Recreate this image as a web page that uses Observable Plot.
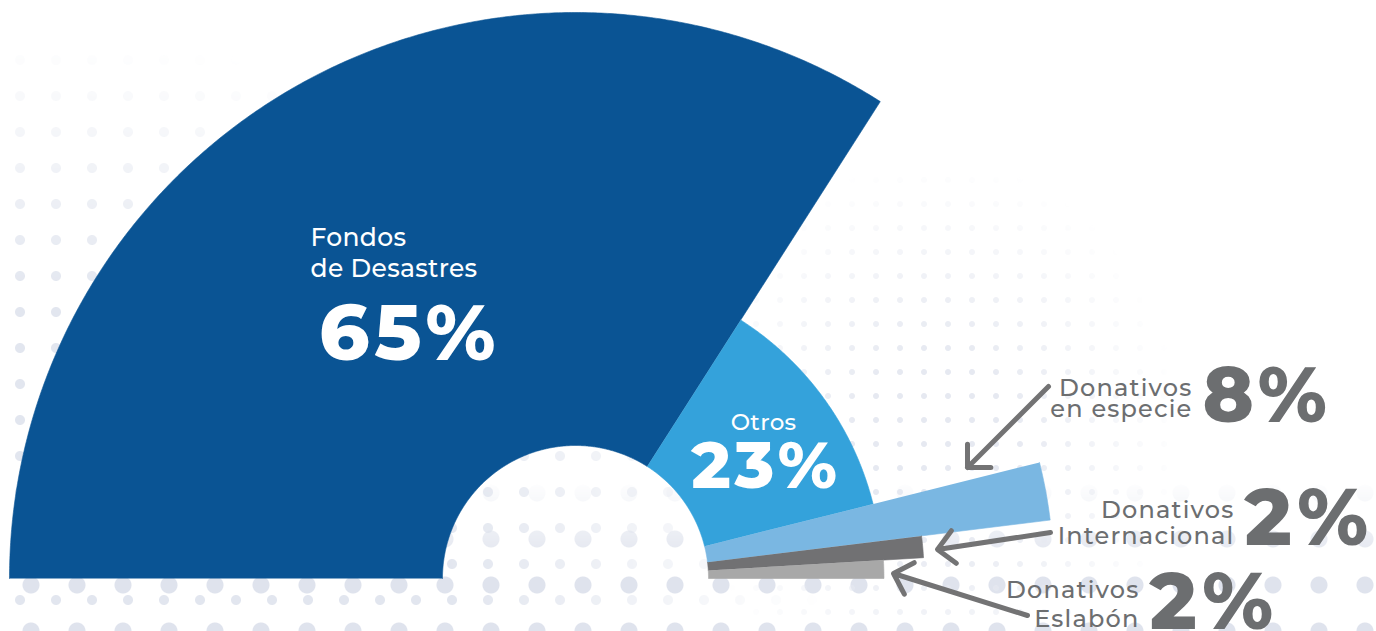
<!DOCTYPE html>
<html>
<head>
<meta charset="utf-8">
<script src="https://cdn.jsdelivr.net/npm/d3@7"></script>
<script src="https://cdn.jsdelivr.net/npm/@observablehq/plot@0.6"></script>
<style>
  html, body { margin: 0; padding: 0; background: #ffffff; }
  #wrap { position: relative; width: 1376px; height: 631px; overflow: hidden; }
  .dots { position: absolute; inset: 0; }
  #dotsBig {
    background-image: radial-gradient(circle, #dfe3ed 0 8px, rgba(255,255,255,0) 9px);
    background-size: 46px 46px;
    background-position: 8px 10px;
    -webkit-mask-image: linear-gradient(to top, #000 0%, #000 10%, transparent 24%);
    mask-image: linear-gradient(to top, #000 0%, #000 10%, transparent 24%);
  }
  #dotsSmall {
    background-image: radial-gradient(circle, #e2e6ef 0 4.5px, rgba(255,255,255,0) 5.5px);
    background-size: 36px 36px;
    background-position: 2px 6px;
    -webkit-mask-image: radial-gradient(ellipse 60% 95% at 0% 100%, #000 55%, transparent 100%);
    mask-image: radial-gradient(ellipse 60% 95% at 0% 100%, #000 55%, transparent 100%);
  }
  #dotsWave {
    background-image: radial-gradient(circle, #e6e9f1 0 2.5px, rgba(255,255,255,0) 3.5px);
    background-size: 24px 24px;
    -webkit-mask-image: radial-gradient(ellipse 18% 45% at 68% 70%, #000 30%, transparent 100%);
    mask-image: radial-gradient(ellipse 18% 45% at 68% 70%, #000 30%, transparent 100%);
  }
  #chart { position: absolute; inset: 0; }
</style>
</head>
<body>
<div id="wrap">
  <div class="dots" id="dotsSmall"></div>
  <div class="dots" id="dotsBig"></div>
  <div class="dots" id="dotsWave"></div>
  <div id="chart"></div>
</div>
<script>
// ---- data ----
const categories = ["Fondos de Desastres", "Otros", "Donativos en especie", "Donativos Internacional", "Donativos Eslabón"];
const values = [65, 23, 8, 2, 2];                 // printed percentages
const arcShare = [68.1, 24.1, 3.9, 2.0, 1.9];      // share of the half circle each slice occupies
const reach = [1, 0.542, 0.845, 0.616, 0.545];     // outer radius of each slice (relative)
const holeRadius = 0.235;
const colors = ["#0a5494", "#34a2db", "#7ab7e2", "#717173", "#a8a8a8"];

// ---- frame ----
const W = 1376, H = 631;
const cxp = 575, cyp = 578, Rp = 566;           // pixel frame of the half donut
const xDomain = [-cxp / Rp, (W - cxp) / Rp];
const yDomain = [(cyp - H) / Rp, cyp / Rp];
const at = (px, py) => ({x: (px - cxp) / Rp, y: (cyp - py) / Rp});

// ---- slice geometry ----
const rad = (d) => d * Math.PI / 180;
let acc = 180;
const slices = categories.map((c, i) => {
  const a0 = acc, a1 = acc - arcShare[i] * 1.8;
  acc = a1;
  return {category: c, value: values[i], a0, a1, r: reach[i]};
});
const pts = [];
for (const s of slices) {
  const n = Math.max(8, Math.ceil((s.a0 - s.a1) * 3));
  for (let k = 0; k <= n; k++) {
    const t = rad(s.a0 + (s.a1 - s.a0) * k / n);
    pts.push({category: s.category, x: s.r * Math.cos(t), y: s.r * Math.sin(t)});
  }
  for (let k = n; k >= 0; k--) {
    const t = rad(s.a0 + (s.a1 - s.a0) * k / n);
    pts.push({category: s.category, x: holeRadius * Math.cos(t), y: holeRadius * Math.sin(t)});
  }
}
const mid = (s) => {
  const t = rad((s.a0 + s.a1) / 2), rr = (holeRadius + s.r) / 2;
  return {x: rr * Math.cos(t), y: rr * Math.sin(t)};
};

const font = "Montserrat, Inter, 'Open Sans', sans-serif";
const grey = "#6c6e70";

// inner labels
const fondos = slices[0], otros = slices[1];
const fA = mid(fondos), oA = mid(otros);

// outer labels for the three small slices
const outer = [
  {s: slices[2], name: at(1192, 416), lh: 21, pct: at(1202, 421), pctSize: 77, tail: at(1048, 386), tip: at(967, 467)},
  {s: slices[3], name: at(1234, 543), lh: 26, pct: at(1244, 544), pctSize: 79, tail: at(1050, 532), tip: at(937, 549)},
  {s: slices[4], name: at(1139, 626), lh: 29, pct: at(1149, 628), pctSize: 79, tail: at(1027, 615), tip: at(893, 573)}
];
const splitName = (c) => { const i = c.indexOf(" "); return c.slice(0, i) + "\n" + c.slice(i + 1); };

const marks = [
  Plot.line(pts, {x: "x", y: "y", z: "category", fill: "category", stroke: "category", strokeWidth: 0.6, curve: "linear"}),
  // Fondos
  Plot.text([fA], {x: "x", y: "y", text: () => splitName(fondos.category), textAnchor: "start", lineAnchor: "bottom", dx: -97, dy: 5, fontSize: 25, lineHeight: 31 / 25, fill: "white", fontWeight: 500, fontFamily: font}),
  Plot.text([fA], {x: "x", y: "y", text: () => fondos.value + "%", textAnchor: "middle", lineAnchor: "bottom", dx: 2, dy: 88, fontSize: 78, fill: "white", fontWeight: 800, fontFamily: font}),
  // Otros
  Plot.text([oA], {x: "x", y: "y", text: () => otros.category, textAnchor: "middle", lineAnchor: "bottom", dx: 9.5, dy: -20.5, fontSize: 23, fill: "white", fontWeight: 500, fontFamily: font}),
  Plot.text([oA], {x: "x", y: "y", text: () => otros.value + "%", textAnchor: "middle", lineAnchor: "bottom", dx: 12, dy: 37.5, fontSize: 66, fill: "white", fontWeight: 800, fontFamily: font}),
  // arrows
  Plot.arrow(outer, {x1: (d) => d.tail.x, y1: (d) => d.tail.y, x2: (d) => d.tip.x, y2: (d) => d.tip.y, stroke: "#737374", strokeWidth: 5, headAngle: 90, headLength: 7})
];
for (const o of outer) {
  marks.push(Plot.text([o], {x: (d) => d.name.x, y: (d) => d.name.y, text: (d) => splitName(d.s.category), textAnchor: "end", lineAnchor: "bottom", fontSize: 24, lineHeight: o.lh / 24, fill: grey, fontWeight: 500, fontFamily: font}));
  marks.push(Plot.text([o], {x: (d) => d.pct.x, y: (d) => d.pct.y, text: (d) => d.s.value + "%", textAnchor: "start", lineAnchor: "bottom", fontSize: o.pctSize, fill: grey, fontWeight: 800, fontFamily: font}));
}

const chart = Plot.plot({
  width: W,
  height: H,
  margin: 0,
  x: {domain: xDomain, axis: null},
  y: {domain: yDomain, axis: null},
  color: {domain: categories, range: colors},
  style: {background: "transparent", fontFamily: font, overflow: "visible"},
  marks
});
// wider letter spacing to approximate the original geometric typeface
d3.select(chart).selectAll("text").each(function () {
  const t = this.textContent;
  if (/%$/.test(t)) this.style.letterSpacing = "0.06em";
  else if (this.getAttribute("fill") === grey || (this.parentNode && this.parentNode.getAttribute("fill") === grey)) this.style.letterSpacing = "1.2px";
  else this.style.letterSpacing = "0.3px";
});
document.getElementById("chart").appendChild(chart);
</script>
</body>
</html>
